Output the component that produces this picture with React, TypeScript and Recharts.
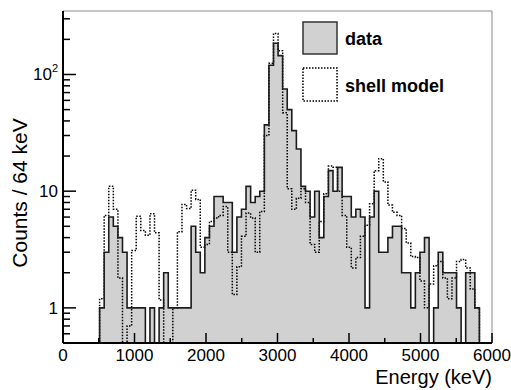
import React from 'react';
import { ComposedChart, Area, Line, XAxis, YAxis, ReferenceLine, Legend } from 'recharts';

// Histogram: 64 keV bins, first filled bin starts at 512 keV
const BIN_WIDTH_KEV = 64;
const FIRST_BIN_KEV = 512;

// measured counts per 64 keV bin (bins starting at 512 keV)
const dataCounts = [
  1, 3, 6, 5, 4, 3, 1, 1, 1, 1, 0, 1, 0, 1, 2, 1, 1, 1, 1, 1,
  5, 3, 2, 4, 5, 9, 9, 8, 8, 3, 6, 7, 11, 8, 9, 10,
  37, 120, 185, 145, 75, 50, 33, 23, 11, 10, 6, 10, 4, 9, 15, 10, 16, 9, 9, 6, 7, 6, 1, 6, 10,
  3, 3, 4, 5, 5, 2, 2, 1, 2, 3, 4, 0, 1, 3, 2, 2, 2, 1, 0, 2, 2, 1,
];

// shell model prediction per bin (same binning)
const shellModel = [
  1.2, 6.2, 11, 7, 1.8, 0, 0.7, 3.1, 6.1, 4.6, 4.2, 6.4, 4.4, 1.17, 0, 0, 1.0, 4.5, 7.7, 7.1,
  10.2, 8.5, 3.3, 3.5, 5.5, 5.9, 6.2, 7.4, 3.0, 1.3, 2.25, 4.1, 6.5, 5.9, 3.0, 6.7,
  30, 125, 225, 160, 47, 10.5, 7, 8.7, 10.5, 8, 3.5, 3.0, 5.5, 9.5, 16.4, 16, 10, 6.2, 3.3, 2.2, 2.7, 4.1, 5.1, 7.8, 15,
  19, 12, 7.6, 6.6, 6.2, 4.8, 3.6, 2.75, 2.7, 1.7, 1.0, 1.6, 2.3, 2.5, 1.8, 1.2, 1.8, 2.5, 2.6, 2.2, 1.45, 1.0,
];

const xTicks = [0, 500, 1000, 1500, 2000, 2500, 3000, 3500, 4000, 4500, 5000, 5500, 6000];
const yTicks = [
  0.5, 0.6, 0.7, 0.8, 0.9, 1, 2, 3, 4, 5, 6, 7, 8, 9,
  10, 20, 30, 40, 50, 60, 70, 80, 90, 100, 200, 300,
];
const yMajor = [1, 10, 100];
const legendLabels = ['data', 'shell model'];
const xTitle = 'Energy (keV)';
const yTitle = 'Counts / 64 keV';

const FLOOR = 0.1; // empty bins drop below the visible range (log axis)
const FONT = '"Liberation Sans", Arial, Helvetica, sans-serif';
const FILL = '#d1d1d1';

const rows: { e: number; data: number; model: number }[] = [];
for (let i = -1; i <= dataCounts.length; i++) {
  const d = dataCounts[i];
  const m = shellModel[i];
  rows.push({
    e: FIRST_BIN_KEV + i * BIN_WIDTH_KEV,
    data: d > 0 ? d : FLOOR,
    model: m > 0 ? m : FLOOR,
  });
}

const XTick = (props: any) => {
  const { x, y, payload } = props;
  const v = payload.value;
  const major = v % 1000 === 0;
  return (
    <g>
      <line x1={x} x2={x} y1={y} y2={y - (major ? 10 : 5)} stroke="#000" strokeWidth={1.5} />
      {major && (
        <text x={x} y={y + 18} textAnchor="middle" fontSize={17} fontFamily={FONT} fill="#000">
          {v}
        </text>
      )}
    </g>
  );
};

const YTick = (props: any) => {
  const { x, y, payload } = props;
  const v = payload.value;
  const major = yMajor.includes(v);
  let label: any = null;
  if (v === 1 || v === 10) {
    label = (
      <text x={x - 5} y={y + 6} textAnchor="end" fontSize={17} fontFamily={FONT} fill="#000">
        {String(v)}
      </text>
    );
  } else if (v === 100) {
    label = (
      <text x={x - 5} y={y + 6} textAnchor="end" fontSize={17} fontFamily={FONT} fill="#000">
        10
        <tspan fontSize={11} dy={-8}>2</tspan>
      </text>
    );
  }
  return (
    <g>
      <line x1={x} x2={x + (major ? 13 : 7)} y1={y} y2={y} stroke="#000" strokeWidth={1.5} />
      {label}
    </g>
  );
};

const renderLegend = () => (
  <svg width={170} height={84} style={{ display: 'block' }}>
    <rect x={1} y={1} width={34} height={32} fill={FILL} stroke="#333" strokeWidth={1.5} />
    <text x={43} y={24} fontSize={18} fontWeight="bold" fontFamily={FONT} fill="#000">
      {legendLabels[0]}
    </text>
    <rect x={1} y={47} width={34} height={33} fill="none" stroke="#000" strokeWidth={1.5} strokeDasharray="1.5 1.5" />
    <text x={43} y={71} fontSize={18} fontWeight="bold" fontFamily={FONT} fill="#000">
      {legendLabels[1]}
    </text>
  </svg>
);

const XTitle = (props: any) => {
  const vb = props.viewBox;
  return (
    <text x={vb.x + vb.width} y={vb.y + 41} textAnchor="end" fontSize={20} fontFamily={FONT} fill="#000">
      {xTitle}
    </text>
  );
};

const YTitle = (props: any) => {
  const vb = props.viewBox;
  return (
    <text
      transform={`translate(${vb.x + 27},${vb.y + 182}) rotate(-90)`}
      textAnchor="middle"
      fontSize={21}
      fontFamily={FONT}
      fill="#000"
    >
      {yTitle}
    </text>
  );
};

export default function App() {
  return (
    <div style={{ position: 'absolute', left: 0, top: 0, background: '#fff' }}>
      <ComposedChart
        width={511}
        height={390}
        data={rows}
        margin={{ top: 11, right: 19, bottom: 0, left: 0 }}
      >
        <XAxis
          dataKey="e"
          type="number"
          domain={[0, 6000]}
          ticks={xTicks}
          interval={0}
          allowDataOverflow
          height={47}
          tickSize={0}
          tickMargin={0}
          tickLine={false}
          tick={<XTick />}
          axisLine={{ stroke: '#000', strokeWidth: 2 }}
          label={{ content: <XTitle /> }}
        />
        <YAxis
          type="number"
          scale="log"
          domain={[0.5, 350]}
          ticks={yTicks}
          interval={0}
          allowDataOverflow
          width={63}
          tickSize={0}
          tickMargin={0}
          tickLine={false}
          tick={<YTick />}
          axisLine={{ stroke: '#000', strokeWidth: 2 }}
          label={{ content: <YTitle /> }}
        />
        <ReferenceLine y={350} stroke="#8a8a8a" strokeWidth={1} />
        <ReferenceLine x={6000} stroke="#8a8a8a" strokeWidth={1} />
        <Area
          dataKey="data"
          type="stepAfter"
          baseValue={0.5}
          fill={FILL}
          fillOpacity={1}
          stroke="none"
          isAnimationActive={false}
          dot={false}
          activeDot={false}
        />
        <Line
          dataKey="model"
          type="stepAfter"
          stroke="#000"
          strokeWidth={1.5}
          strokeDasharray="1.5 1.5"
          dot={false}
          activeDot={false}
          isAnimationActive={false}
        />
        <Line
          dataKey="data"
          type="stepAfter"
          stroke="#1c1c1c"
          strokeWidth={1.6}
          dot={false}
          activeDot={false}
          isAnimationActive={false}
        />
        <Legend
          layout="horizontal"
          verticalAlign="middle"
          align="center"
          content={renderLegend}
          wrapperStyle={{ position: 'absolute', left: 302, top: 21, width: 170, height: 84 }}
        />
      </ComposedChart>
    </div>
  );
}
